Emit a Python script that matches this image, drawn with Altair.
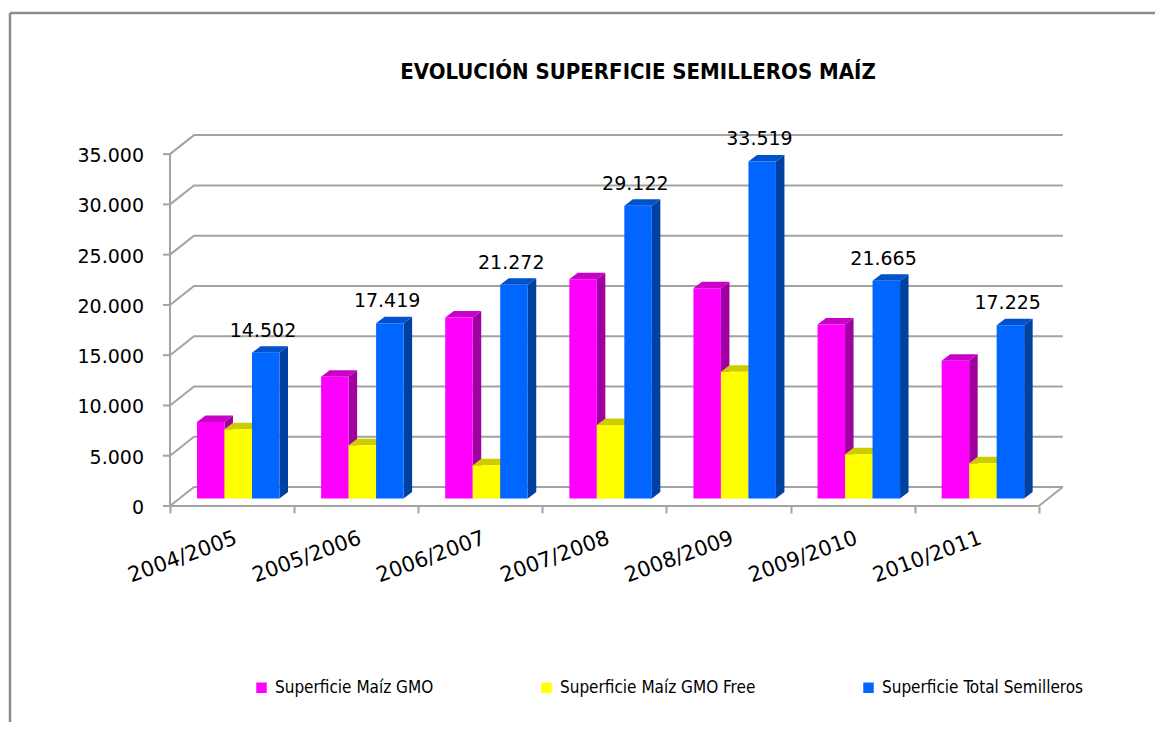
import altair as alt
import pandas as pd

# ---------------- data ----------------
seasons = ["2004/2005", "2005/2006", "2006/2007", "2007/2008",
           "2008/2009", "2009/2010", "2010/2011"]
gmo = [7600, 12100, 18000, 21800, 20900, 17300, 13700]
gmo_free = [6900, 5300, 3300, 7300, 12600, 4400, 3500]
total = [14502, 17419, 21272, 29122, 33519, 21665, 17225]
series_names = ["Superficie Maíz GMO", "Superficie Maíz GMO Free",
                "Superficie Total Semilleros"]
y_ticks = [0, 5000, 10000, 15000, 20000, 25000, 30000, 35000]
chart_title = "EVOLUCIÓN SUPERFICIE SEMILLEROS MAÍZ"

# ---------------- style ----------------
front_colors = ["#FF00FF", "#FFFF00", "#0066FF"]
top_colors = ["#C800C8", "#CCCC00", "#0052CC"]
side_colors = ["#A000A0", "#A6A600", "#0040A0"]
GRID = "#A3A3A3"
FONT = "DejaVu Sans"
NARROW = "Liberation Sans Narrow, DejaVu Sans Condensed, Liberation Sans, sans-serif"

W, H = 906, 372
XMAX, YMAX = 7.3, 37000
PXX = W / XMAX
PXY = H / YMAX
wall_dx, wall_dy = 24 / PXX, 19 / PXY
bar_base = 7.5 / PXY
bar_off, bar_w = 27 / PXX, 27.5 / PXX
bar_dx, bar_dy = 8.5 / PXX, 6.5 / PXY
tick_len = 7 / PXX

xs = alt.Scale(domain=[0, XMAX], nice=False, zero=False)
ys = alt.Scale(domain=[0, YMAX], nice=False, zero=False)

# ---------------- geometry tables built from the data ----------------
series_values = [gmo, gmo_free, total]
fronts, faces, labels = [], [], []
fid = 0
for k, (name, vals) in enumerate(zip(series_names, series_values)):
    for i, v in enumerate(vals):
        x0 = i + bar_off + k * bar_w
        x1 = x0 + bar_w
        y0 = bar_base
        y1 = bar_base + v
        fronts.append({"serie": name, "x": x0, "x2": x1, "y": y0, "y2": y1})
        sid = f"s{fid}"
        tid = f"t{fid}"
        faces += [
            {"fid": sid, "px": x1, "lo": y0, "hi": y1, "col": side_colors[k]},
            {"fid": sid, "px": x1 + bar_dx, "lo": y0 + bar_dy, "hi": y1 + bar_dy, "col": side_colors[k]},
            {"fid": tid, "px": x0, "lo": y1, "hi": y1, "col": top_colors[k]},
            {"fid": tid, "px": x0 + bar_dx, "lo": y1, "hi": y1 + bar_dy, "col": top_colors[k]},
            {"fid": tid, "px": x1, "lo": y1, "hi": y1 + bar_dy, "col": top_colors[k]},
            {"fid": tid, "px": x1 + bar_dx, "lo": y1 + bar_dy, "hi": y1 + bar_dy, "col": top_colors[k]},
        ]
        fid += 1
        if k == 2:
            labels.append({"x": x0 + 0.4 * bar_w, "y": y1,
                           "t": f"{v:,}".replace(",", ".")})

grid = []
for g in y_ticks:
    grid += [
        {"gid": g, "seq": 0, "x": 0, "y": g},
        {"gid": g, "seq": 1, "x": wall_dx, "y": g + wall_dy},
        {"gid": g, "seq": 2, "x": len(seasons) + wall_dx, "y": g + wall_dy},
    ]
grid += [
    {"gid": -1, "seq": 0, "x": len(seasons), "y": 0},
    {"gid": -1, "seq": 1, "x": len(seasons) + wall_dx, "y": wall_dy},
]
axes_lines = pd.DataFrame([
    {"x": 0, "x2": 0, "y": 0, "y2": y_ticks[-1]},
    {"x": 0, "x2": len(seasons), "y": 0, "y2": 0},
])
ytick_df = pd.DataFrame({
    "v": y_ticks,
    "x": [0] * len(y_ticks),
    "xt": [-tick_len] * len(y_ticks),
    "lab": [f"{v:,}".replace(",", ".") for v in y_ticks],
})

one = pd.DataFrame({"a": [0]})
season_expr = "[" + ",".join(f"'{s}'" for s in seasons) + "][floor(datum.value)]"

# ---------------- layers ----------------
grid_layer = alt.Chart(pd.DataFrame(grid)).mark_line(
    color=GRID, strokeWidth=2
).encode(
    x=alt.X("x:Q", scale=xs, axis=alt.Axis(
        values=list(range(len(seasons) + 1)), labels=False, ticks=True,
        tickSize=7, tickColor=GRID, tickWidth=2, domain=False, grid=False,
        title=None, orient="bottom")),
    y=alt.Y("y:Q", scale=ys, axis=None),
    detail="gid:N",
    order="seq:Q",
)

axis_layer = alt.Chart(axes_lines).mark_rule(color=GRID, strokeWidth=2).encode(
    x=alt.X("x:Q", scale=xs, axis=None), x2="x2:Q",
    y=alt.Y("y:Q", scale=ys, axis=None), y2="y2:Q",
)

ytick_layer = alt.Chart(ytick_df).mark_rule(color=GRID, strokeWidth=2).encode(
    x=alt.X("x:Q", scale=xs, axis=None), x2="xt:Q",
    y=alt.Y("v:Q", scale=ys, axis=None),
)

ylabel_layer = alt.Chart(ytick_df).mark_text(
    font=FONT, fontSize=19, align="right", baseline="middle", dx=-26, dy=2,
    color="black"
).encode(
    x=alt.X("x:Q", scale=xs, axis=None),
    y=alt.Y("v:Q", scale=ys, axis=None),
    text="lab:N",
)

face_layer = alt.Chart(pd.DataFrame(faces)).mark_area(
    interpolate="linear", opacity=1, line=False
).encode(
    x=alt.X("px:Q", scale=xs, axis=None),
    y=alt.Y("hi:Q", scale=ys, axis=None),
    y2="lo:Q",
    color=alt.Color("col:N", scale=None, legend=None),
    detail="fid:N",
)

front_layer = alt.Chart(pd.DataFrame(fronts)).mark_rect(opacity=1).encode(
    x=alt.X("x:Q", scale=xs, axis=alt.Axis(
        values=[i + 0.5 for i in range(len(seasons))], labelExpr=season_expr,
        ticks=False, tickSize=0, domain=False, grid=False, title=None,
        labelAngle=-20, labelAlign="right", labelBaseline="top",
        labelPadding=21, labelFont=FONT, labelFontSize=21,
        labelColor="black", orient="bottom")),
    x2="x2:Q",
    y=alt.Y("y:Q", scale=ys, axis=None), y2="y2:Q",
    color=alt.Color("serie:N", scale=alt.Scale(domain=series_names, range=front_colors),
                    legend=alt.Legend(
                        orient="none", legendX=83, legendY=545, direction="horizontal",
                        title=None, symbolType="square", symbolSize=110,
                        symbolStrokeWidth=0, symbolOpacity=1, labelFont=NARROW,
                        labelFontSize=17, labelColor="black", columnPadding=104,
                        labelOffset=5, padding=0, labelLimit=400)),
)

label_layer = alt.Chart(pd.DataFrame(labels)).mark_text(
    font=FONT, fontSize=19, baseline="alphabetic", align="center", dy=-16,
    color="black"
).encode(
    x=alt.X("x:Q", scale=xs, axis=None),
    y=alt.Y("y:Q", scale=ys, axis=None),
    text="t:N",
)

title_layer = alt.Chart(one).mark_text(
    text=chart_title, font=NARROW, fontSize=22, fontWeight="bold",
    align="center", baseline="alphabetic", color="black"
).encode(x=alt.value(468), y=alt.value(-55))

frame_left = alt.Chart(one).mark_rule(color="#8C8C8C", strokeWidth=2.5).encode(
    x=alt.value(-160), y=alt.value(-121), y2=alt.value(588))
frame_top = alt.Chart(one).mark_rule(color="#8C8C8C", strokeWidth=2.5).encode(
    x=alt.value(-160), x2=alt.value(985), y=alt.value(-121))

chart = alt.layer(
    frame_left, frame_top, title_layer, grid_layer, axis_layer, ytick_layer,
    ylabel_layer, face_layer, front_layer, label_layer
).resolve_axis(x="independent").resolve_scale(color="independent").properties(
    width=W, height=H,
    padding={"left": 0, "top": 3, "right": 0, "bottom": 0},
    background="white",
).configure_view(stroke=None)

chart.save("out.html", embed_options={"renderer": "svg", "actions": False})
